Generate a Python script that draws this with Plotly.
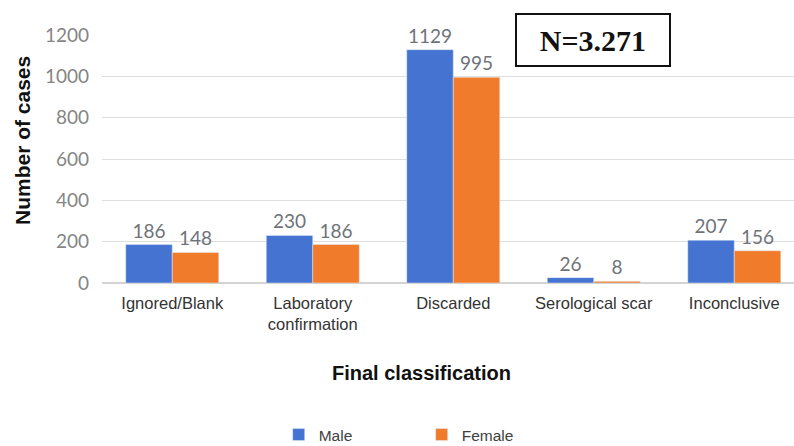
import plotly.graph_objects as go

# Final classification of cases by sex
categories = ["Ignored/Blank", "Laboratory<br>confirmation", "Discarded",
              "Serological scar", "Inconclusive"]
male = [186, 230, 1129, 26, 207]
female = [148, 186, 995, 8, 156]
y_ticks = [0, 200, 400, 600, 800, 1000, 1200]

BLUE = "#4573d2"
ORANGE = "#f07b2b"
LABEL_FONT = dict(family="Lato, Liberation Sans, sans-serif", size=19, color="#6e7379")

fig = go.Figure()
fig.add_trace(go.Bar(
    name="Male", x=categories, y=male, marker_color=BLUE,
    text=male, textposition="outside", textfont=LABEL_FONT, cliponaxis=False,
))
fig.add_trace(go.Bar(
    name="Female", x=categories, y=female, marker_color=ORANGE,
    text=female, textposition="outside", textfont=LABEL_FONT, cliponaxis=False,
))

fig.update_layout(
    width=794, height=446,
    margin=dict(l=102, r=0, t=35, b=163),
    paper_bgcolor="white", plot_bgcolor="white",
    barmode="group", bargap=0.338, bargroupgap=0,
    showlegend=True,
    legend=dict(
        orientation="h", xref="container", yref="container",
        x=0.351, y=1 - 435 / 446, xanchor="left", yanchor="middle",
        font=dict(family="Liberation Sans, Arial, sans-serif", size=15.5, color="#404040"),
        entrywidth=98, entrywidthmode="pixels",
        itemclick=False,
    ),
)

fig.update_xaxes(
    range=[-0.5, 4.425],
    showgrid=False, showline=False, ticks="",
    ticklabelstandoff=8,
    tickfont=dict(family="Liberation Sans, Arial, sans-serif", size=16.5, color="#333333"),
)
fig.update_yaxes(
    range=[0, 1200], tickvals=y_ticks,
    showgrid=True, gridcolor="#dedede", gridwidth=1,
    zeroline=True, zerolinecolor="#d4d4d4", zerolinewidth=1.5,
    showline=False, ticks="", ticklabelstandoff=12,
    tickfont=dict(family="Lato, Liberation Sans, sans-serif", size=19, color="#858585"),
)

# Axis titles
fig.add_annotation(
    text="<b>Number of cases</b>", textangle=-90,
    xref="paper", yref="paper", x=-0.114, y=0.573,
    xanchor="center", yanchor="middle", showarrow=False,
    font=dict(family="Liberation Sans, Arial, sans-serif", size=21, color="#111111"),
)
fig.add_annotation(
    text="<b>Final classification</b>",
    xref="paper", yref="paper", x=0.462, y=-0.363,
    xanchor="center", yanchor="middle", showarrow=False,
    font=dict(family="Liberation Sans, Arial, sans-serif", size=20, color="#111111"),
)

# Total count box
fig.add_annotation(
    text="<b>N=3.271</b>",
    xref="paper", yref="paper", x=0.71, y=0.98,
    xanchor="center", yanchor="middle", showarrow=False,
    width=152, height=50, borderpad=0,
    bordercolor="#111111", borderwidth=2, bgcolor="white",
    font=dict(family="Liberation Serif, Times New Roman, serif", size=30, color="#111111"),
)

fig.write_html("out.html")
